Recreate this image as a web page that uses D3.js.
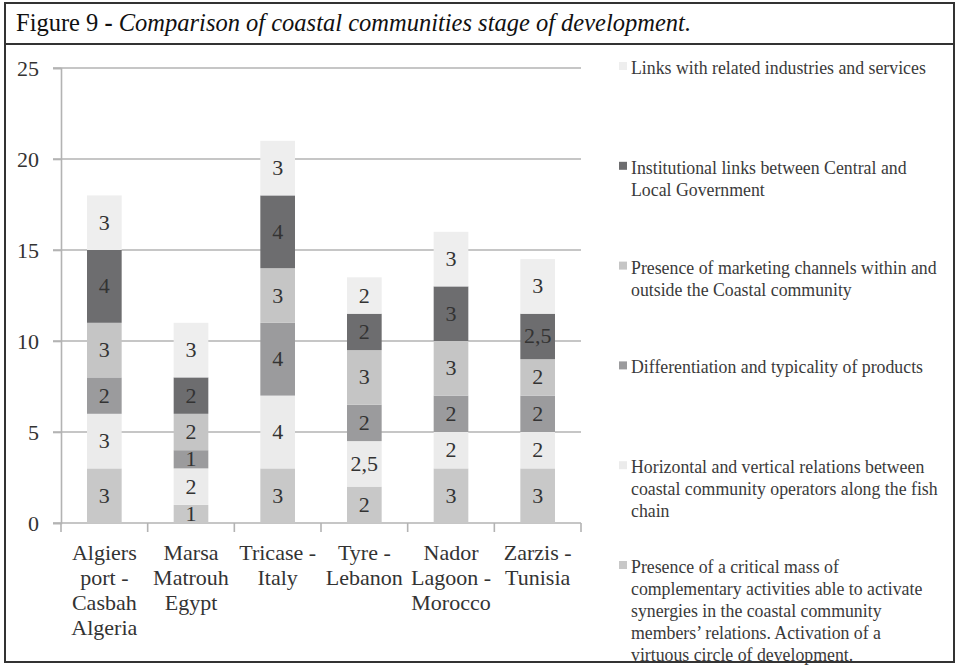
<!DOCTYPE html>
<html>
<head>
<meta charset="utf-8">
<script src="https://cdn.jsdelivr.net/npm/d3@7"></script>
<style>
  body { margin: 0; background: #fff; }
  svg { display: block; }
  text { font-family: "Liberation Serif", "Times New Roman", serif; }
</style>
</head>
<body>
<svg width="956" height="665"></svg>
<script>
// data (stacked bottom to top)
var places = ["Algiers", "Marsa", "Tricase", "Tyre", "Nador", "Zarzis"];
var placeLines = [
  ["Algiers", "port -", "Casbah", "Algeria"],
  ["Marsa", "Matrouh", "Egypt"],
  ["Tricase -", "Italy"],
  ["Tyre -", "Lebanon"],
  ["Nador", "Lagoon -", "Morocco"],
  ["Zarzis -", "Tunisia"]
];

var criticalMass   = [3, 1, 3, 2, 3, 3];
var relations      = [3, 2, 4, 2.5, 2, 2];
var differentiation= [2, 1, 4, 2, 2, 2];
var marketing      = [3, 2, 3, 3, 3, 2];
var institutional  = [4, 2, 4, 2, 3, 2.5];
var links          = [3, 3, 3, 2, 3, 3];

var seriesKeys = ["critical", "relations", "diff", "marketing", "institutional", "links"];
var seriesValues = [criticalMass, relations, differentiation, marketing, institutional, links];
var seriesColors = ["#c8c8c8", "#ebebeb", "#9b9b9d", "#c5c5c5", "#6d6d6f", "#eeeeee"];
var legendLines = [
  ["Presence of a critical mass of", "complementary activities able to activate", "synergies in the coastal community", "members\u2019 relations. Activation of a", "virtuous circle of development."],
  ["Horizontal and vertical relations between", "coastal community operators along the fish", "chain"],
  ["Differentiation and typicality of products"],
  ["Presence of marketing channels within and", "outside the Coastal community"],
  ["Institutional links between Central and", "Local Government"],
  ["Links with related industries and services"]
];
var yTicks = [0, 5, 10, 15, 20, 25];

var svg = d3.select("svg");

// frame + title
svg.append("rect").attr("x", 5).attr("y", 3).attr("width", 949).attr("height", 659)
  .attr("fill", "#fff").attr("stroke", "#333").attr("stroke-width", 2);
svg.append("line").attr("x1", 5).attr("x2", 954).attr("y1", 44).attr("y2", 44)
  .attr("stroke", "#333").attr("stroke-width", 2);

var title = svg.append("text").attr("x", 16).attr("y", 31)
  .attr("font-size", 24.5).attr("fill", "#111");
title.append("tspan").text("Figure 9 ");
title.append("tspan").attr("font-weight", "bold").text("- ");
title.append("tspan").attr("font-style", "italic")
  .text("Comparison of coastal communities stage of development.");

// chart
var x = d3.scaleBand().domain(places).range([61, 581]).paddingInner(0.6).paddingOuter(0.3);
var y = d3.scaleLinear().domain([0, 25]).range([523, 68]);

var table = places.map(function(p, i) {
  var row = {place: p};
  seriesKeys.forEach(function(k, j) { row[k] = seriesValues[j][i]; });
  return row;
});
var stacked = d3.stack().keys(seriesKeys)(table);

// gridlines
svg.append("g").selectAll("line").data(yTicks.slice(1)).enter().append("line")
  .attr("x1", 53).attr("x2", 581)
  .attr("y1", function(d) { return y(d); }).attr("y2", function(d) { return y(d); })
  .attr("stroke", "#b3b3b3").attr("stroke-width", 1.6);

// y axis
var yAxis = svg.append("g").attr("transform", "translate(61,0)")
  .call(d3.axisLeft(y).tickValues(yTicks).tickSize(8).tickPadding(14));
yAxis.select(".domain").attr("stroke", "#b3b3b3").attr("stroke-width", 1.6);
yAxis.selectAll(".tick line").attr("stroke", "#b3b3b3").attr("stroke-width", 1.6);
yAxis.selectAll(".tick text").attr("font-family", "Liberation Serif, serif")
  .attr("font-size", 22).attr("fill", "#333");

// x axis line + boundary ticks
svg.append("line").attr("x1", 53).attr("x2", 581).attr("y1", y(0)).attr("y2", y(0))
  .attr("stroke", "#b3b3b3").attr("stroke-width", 1.6);
svg.append("g").selectAll("line").data(d3.range(places.length + 1)).enter().append("line")
  .attr("x1", function(i) { return 61 + i * (520 / places.length); })
  .attr("x2", function(i) { return 61 + i * (520 / places.length); })
  .attr("y1", y(0)).attr("y2", y(0) + 9)
  .attr("stroke", "#b3b3b3").attr("stroke-width", 1.6);

// bars
var layer = svg.append("g").selectAll("g").data(stacked).enter().append("g")
  .attr("fill", function(d, i) { return seriesColors[i]; });
layer.selectAll("rect").data(function(d) { return d; }).enter().append("rect")
  .attr("x", function(d) { return x(d.data.place); })
  .attr("width", x.bandwidth())
  .attr("y", function(d) { return y(d[1]); })
  .attr("height", function(d) { return y(d[0]) - y(d[1]); });

// value labels
var fmt = function(v) { return String(v).replace(".", ","); };
svg.append("g").selectAll("g").data(stacked).enter().append("g")
  .selectAll("text").data(function(d) { return d; }).enter().append("text")
  .attr("x", function(d) { return x(d.data.place) + x.bandwidth() / 2; })
  .attr("y", function(d) { return (y(d[0]) + y(d[1])) / 2 + 7; })
  .attr("text-anchor", "middle").attr("font-size", 22).attr("fill", "#333")
  .text(function(d) { return fmt(d[1] - d[0]); });

// category labels
svg.append("g").selectAll("text").data(places).enter().append("text")
  .attr("text-anchor", "middle").attr("font-size", 22).attr("fill", "#333")
  .attr("x", function(d) { return x(d) + x.bandwidth() / 2; })
  .attr("y", 560)
  .each(function(d, i) {
    var t = d3.select(this);
    placeLines[i].forEach(function(line, k) {
      t.append("tspan").attr("x", x(d) + x.bandwidth() / 2).attr("y", 560 + k * 25).text(line);
    });
  });

// legend, top entry = last series
var legendY = d3.scaleLinear().domain([0, 5]).range([68, 567]);
var legendOrder = d3.range(seriesKeys.length).reverse();
var lg = svg.append("g").selectAll("g").data(legendOrder).enter().append("g")
  .attr("transform", function(d, i) { return "translate(619," + legendY(i) + ")"; });
lg.append("rect").attr("x", 0).attr("y", -6).attr("width", 8).attr("height", 8)
  .attr("fill", function(d) { return seriesColors[d]; });
lg.append("text").attr("font-size", 17.8).attr("fill", "#3a3a3a")
  .each(function(d) {
    var t = d3.select(this);
    legendLines[d].forEach(function(line, k) {
      t.append("tspan").attr("x", 12).attr("y", 6 + k * 22).text(line);
    });
  });
</script>
</body>
</html>
